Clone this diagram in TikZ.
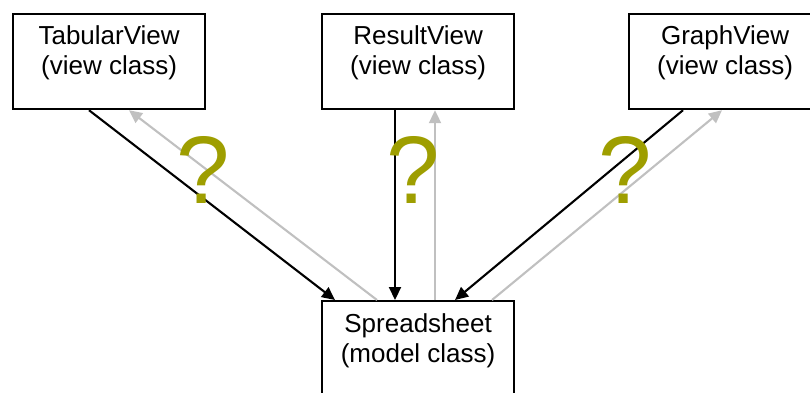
\documentclass[tikz,border=0pt]{standalone}
\usepackage{fontspec}
\setmainfont{Liberation Sans}
\usetikzlibrary{arrows.meta}
\definecolor{qolive}{RGB}{158,158,0}
\definecolor{lgray}{RGB}{192,192,192}
\begin{document}
\begin{tikzpicture}[x=1pt,y=-1pt,
  classbox/.style={draw=black,line width=2.2pt,minimum width=192pt,inner sep=0pt,anchor=north west},
  lbl/.style={align=center,inner sep=0pt,anchor=north,font=\fontsize{26}{30}\selectfont},
  qmark/.style={text=qolive,inner sep=0pt,anchor=base,font=\fontsize{96}{100}\selectfont},
  fwd/.style={draw=black,line width=2.1pt,-{Triangle[length=13pt,width=12pt]}},
  back/.style={draw=lgray,line width=2.1pt,-{Triangle[length=13pt,width=12pt]}}]
\useasboundingbox (0,0) rectangle (810,392);
\clip (0,0) rectangle (810,392);
\node[classbox,minimum height=95pt] (tab) at (12,13) {};
\node[classbox,minimum height=95pt] (res) at (321,13) {};
\node[classbox,minimum height=95pt] (gra) at (628,13) {};
\node[classbox,minimum height=120pt] (ss) at (321,300) {};
\node[lbl] (tabt) at ([yshift=-12pt]tab.north) {TabularView\\(view class)};
\node[lbl] (rest) at ([yshift=-12pt]res.north) {ResultView\\(view class)};
\node[lbl] (grat) at ([yshift=-12pt]gra.north) {GraphView\\(view class)};
\node[lbl] (sst) at ([yshift=-13pt]ss.north) {Spreadsheet\\(model class)};
% connectors
\draw[fwd] ([xshift=77pt]tab.south west) -- ([xshift=14pt]ss.north west);
\draw[back] ([xshift=56pt]ss.north west) -- ([xshift=117pt]tab.south west);
\draw[fwd] ([xshift=74pt]res.south west) -- ([xshift=74pt]ss.north west);
\draw[back] ([xshift=114pt]ss.north west) -- ([xshift=114pt]res.south west);
\draw[fwd] ([xshift=55pt]gra.south west) -- ([xshift=134pt]ss.north west);
\draw[back] ([xshift=171pt]ss.north west) -- ([xshift=94pt]gra.south west);
% question marks
\node[qmark] (q1) at (203,203) {?};
\node[qmark] (q2) at (413,203) {?};
\node[qmark] (q3) at (625,203) {?};
\end{tikzpicture}
\end{document}
